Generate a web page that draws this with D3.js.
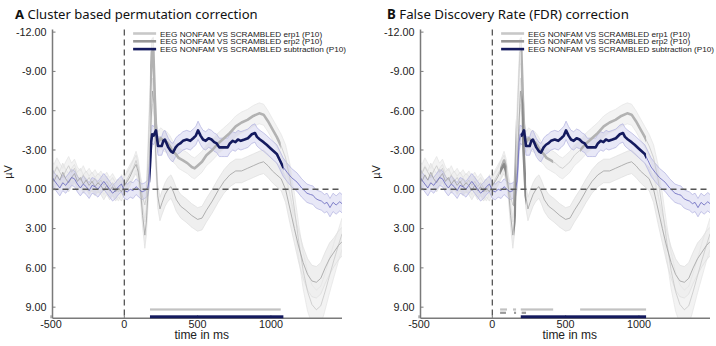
<!DOCTYPE html>
<html><head><meta charset="utf-8">
<script src="https://cdn.jsdelivr.net/npm/d3@7"></script>
<style>body{margin:0;background:#fff}svg{display:block}</style>
</head><body>
<script>
// ---------- data ----------
const yTicks = [-12, -9, -6, -3, 0, 3, 6, 9];
const xTicks = [-500, 0, 500, 1000];
const legendLabels = [
  "EEG NONFAM VS SCRAMBLED erp1 (P10)",
  "EEG NONFAM VS SCRAMBLED erp2 (P10)",
  "EEG NONFAM VS SCRAMBLED subtraction (P10)"
];
const panelLetters = ["A", "B"];
const panelTitles = ["Cluster based permutation correction", "False Discovery Rate (FDR) correction"];

// [time ms, amplitude µV, standard error]
const erp1 = [[-500,-1.6,0.7],[-480,-1.2,0.7],[-460,-1.7,0.7],[-440,-1.3,0.7],[-420,-0.9,0.7],[-400,-1.4,0.7],[-380,-1.8,0.7],[-360,-1.3,0.7],[-340,-1.6,0.7],[-320,-1.0,0.7],[-300,-0.7,0.7],[-280,-1.1,0.7],[-260,-0.6,0.7],[-240,-0.9,0.7],[-220,-0.5,0.7],[-200,-0.8,0.7],[-180,-0.4,0.7],[-160,-0.7,0.7],[-140,-0.3,0.7],[-120,-0.6,0.7],[-100,-0.2,0.7],[-80,-0.5,0.7],[-60,-0.1,0.7],[-40,0.2,0.7],[-20,-0.4,0.7],[0,-0.2,0.7],[20,-0.8,0.7],[40,-1.2,0.7],[60,-1.6,0.7],[80,-2.2,0.7],[95,-1.6,0.7],[110,-0.2,0.8],[125,0.6,0.9],[140,1.2,1.0],[150,0.6,1.0],[160,-2.0,1.0],[175,-7.0,1.0],[188,-10.5,1.0],[198,-10.6,1.0],[208,-7.0,1.0],[218,-4.2,0.9],[232,-3.6,0.8],[248,-3.9,0.8],[268,-3.7,0.8],[290,-3.6,0.8],[310,-3.3,0.8],[330,-2.9,0.8],[350,-2.7,0.8],[370,-2.4,0.8],[400,-2.2,0.8],[430,-2.0,0.8],[460,-1.7,0.8],[480,-1.6,0.8],[500,-1.8,0.8],[530,-2.1,0.8],[560,-2.6,0.8],[600,-3.0,0.8],[640,-3.5,0.8],[680,-3.9,0.8],[720,-4.3,0.8],[760,-4.8,0.8],[800,-5.1,0.8],[840,-5.3,0.8],[880,-5.6,0.8],[920,-5.8,0.8],[950,-5.7,0.8],[980,-5.2,0.8],[1010,-4.6,0.8],[1040,-4.0,0.8],[1070,-3.3,0.9],[1100,-2.4,1.0],[1130,-0.8,1.1],[1160,1.5,1.2],[1190,4.0,1.3],[1220,6.2,1.4],[1250,7.8,1.5],[1280,8.8,1.5],[1310,9.2,1.5],[1340,8.9,1.5],[1370,7.8,1.4],[1400,6.6,1.3],[1430,5.4,1.3],[1460,4.3,1.2],[1485,3.4,1.2]];

const erp2 = [[-500,-1.0,0.7],[-480,-0.6,0.7],[-460,-1.1,0.7],[-440,-0.7,0.7],[-420,-1.3,0.7],[-400,-0.8,0.7],[-380,-0.5,0.7],[-360,-0.9,0.7],[-340,-1.2,0.7],[-320,-0.6,0.7],[-300,-0.9,0.7],[-280,-0.4,0.7],[-260,-0.7,0.7],[-240,-0.3,0.7],[-220,-0.6,0.7],[-200,-0.2,0.7],[-180,-0.5,0.7],[-160,-0.3,0.7],[-140,0.1,0.7],[-120,-0.3,0.7],[-100,0.1,0.7],[-80,-0.2,0.7],[-60,0.2,0.7],[-40,-0.1,0.7],[-20,0.2,0.7],[0,-0.3,0.7],[20,-0.6,0.7],[40,-1.0,0.7],[60,-1.5,0.7],[80,-1.9,0.7],[95,-1.3,0.7],[110,0.0,0.8],[125,2.0,0.9],[140,3.5,1.0],[150,2.5,1.0],[163,0.0,1.0],[178,-4.0,1.0],[192,-7.5,1.0],[203,-6.5,1.0],[213,-3.0,1.0],[228,0.5,0.9],[243,1.5,0.9],[258,1.0,0.9],[278,0.4,0.9],[298,0.0,0.9],[318,-0.2,0.9],[335,0.2,0.9],[355,0.8,0.9],[385,1.3,0.9],[420,1.6,0.9],[460,2.0,0.9],[500,2.3,0.9],[530,2.2,0.9],[560,1.6,0.9],[600,0.9,0.9],[640,0.1,0.9],[680,-0.6,0.9],[720,-1.1,0.9],[760,-1.4,0.9],[800,-1.4,0.9],[840,-1.6,0.9],[880,-1.8,0.9],[920,-2.0,0.9],[950,-2.1,0.9],[980,-1.8,0.9],[1010,-1.4,0.9],[1040,-1.1,0.9],[1070,-0.8,0.9],[1100,0.0,1.0],[1130,1.5,1.1],[1160,3.0,1.1],[1190,4.4,1.2],[1220,5.6,1.2],[1250,6.5,1.2],[1280,7.0,1.2],[1310,7.1,1.2],[1340,6.8,1.2],[1370,6.0,1.2],[1400,5.3,1.2],[1430,4.8,1.1],[1460,4.3,1.1],[1485,4.0,1.1]];

const sub = [[-500,-1.1,0.6],[-480,-0.7,0.6],[-460,-0.4,0.6],[-440,-0.1,0.6],[-420,-0.5,0.6],[-400,-0.3,0.6],[-380,-0.6,0.6],[-360,-0.9,0.6],[-340,-0.8,0.6],[-320,-0.4,0.6],[-300,-0.1,0.6],[-280,-0.4,0.6],[-260,-0.2,0.6],[-240,0.1,0.6],[-220,-0.3,0.6],[-200,-0.2,0.6],[-180,0.0,0.6],[-160,-0.3,0.6],[-140,-0.6,0.6],[-120,-0.3,0.6],[-100,0.0,0.6],[-80,0.3,0.6],[-60,0.1,0.6],[-40,-0.2,0.6],[-20,-0.4,0.6],[0,0.1,0.6],[20,0.2,0.6],[40,0.0,0.6],[60,0.1,0.6],[80,-0.2,0.6],[100,0.0,0.6],[120,0.2,0.6],[140,0.1,0.6],[160,-0.1,0.6],[168,-0.6,0.6],[175,-1.8,0.7],[183,-3.6,0.7],[190,-4.2,0.7],[200,-4.1,0.7],[216,-4.5,0.7],[230,-3.3,0.7],[243,-3.3,0.7],[255,-3.3,0.7],[266,-3.7,0.7],[277,-3.8,0.7],[300,-3.2,0.7],[318,-2.9,0.7],[332,-2.8,0.7],[350,-3.2,0.7],[366,-3.4,0.7],[381,-3.5,0.7],[400,-3.7,0.7],[426,-3.8,0.7],[450,-3.7,0.7],[470,-3.9,0.7],[488,-4.1,0.7],[503,-4.5,0.7],[520,-4.1,0.7],[537,-3.8,0.7],[555,-3.7,0.7],[575,-3.9,0.7],[595,-3.8,0.7],[613,-3.6,0.7],[630,-3.5,0.7],[648,-3.2,0.7],[664,-3.2,0.7],[685,-3.2,0.7],[705,-3.2,0.7],[720,-3.5,0.7],[740,-3.7,0.7],[758,-3.6,0.7],[775,-3.8,0.7],[795,-3.7,0.7],[820,-3.8,0.7],[843,-3.9,0.7],[870,-4.2,0.7],[891,-4.3,0.7],[905,-4.0,0.7],[925,-3.8,0.7],[950,-3.6,0.7],[971,-3.4,0.7],[1000,-3.1,0.7],[1040,-2.7,0.7],[1062,-2.2,0.7],[1083,-1.7,0.7],[1110,-1.3,0.7],[1140,-0.9,0.7],[1178,-0.55,0.7],[1210,-0.1,0.7],[1246,0.3,0.7],[1270,0.4,0.7],[1287,0.45,0.7],[1305,0.7,0.7],[1321,0.8,0.7],[1345,0.9,0.7],[1365,1.1,0.7],[1383,1.0,0.7],[1403,1.4,0.7],[1424,1.0,0.7],[1445,1.2,0.7],[1470,0.95,0.7],[1485,1.1,0.7]];

// significant windows (ms) per panel
const sigErp1 = [[[175,1067]], [[53,100],[141,162],[194,415],[599,1049]]];
const sigErp2 = [[], [[53,93],[148,162],[200,230]]];
const sigSub  = [[[175,1085]], [[194,1049]]];

// ---------- drawing ----------
const W = 716, H = 346;
const svg = d3.select("body").append("svg").attr("width", W).attr("height", H);
const defs = svg.append("defs");

const series = [
  {key:"erp1", data: erp1, sig: sigErp1, band:"#f3f3f3", edge:"#e4e4e4", thin:"#c8c8c8", thick:"#b2b2b2", legend:"#c8c8c8", bar:"#c2c2c2", barRow:0},
  {key:"erp2", data: erp2, sig: sigErp2, band:"#efefef", edge:"#dedede", thin:"#a0a0a0", thick:"#8a8a8a", legend:"#979797", bar:"#999999", barRow:1},
  {key:"sub",  data: sub,  sig: sigSub,  band:"rgba(150,150,220,0.22)", edge:"#b0b0e0", thin:"#6565bd", thick:"#141a5e", legend:"#141a5e", bar:"#141a5e", barRow:2}
];

panelLetters.forEach((letter, p) => {
  const off = p * 368;
  const x = d3.scaleLinear().domain([-490, 1485]).range([52.5 + off, 342 + off]);
  const y = d3.scaleLinear().domain([-12.2, 9.85]).range([29.5, 318.3]);
  const g = svg.append("g");

  const clipId = "plot" + p;
  defs.append("clipPath").attr("id", clipId).append("rect")
    .attr("x", x.range()[0]).attr("y", y.range()[0])
    .attr("width", x.range()[1] - x.range()[0]).attr("height", y.range()[1] - y.range()[0]);
  const plot = g.append("g").attr("clip-path", `url(#${clipId})`);

  const area = d3.area().x(d => x(d[0])).y0(d => y(d[1] - d[2])).y1(d => y(d[1] + d[2]));
  const line = d3.line().x(d => x(d[0])).y(d => y(d[1]));
  const lineLo = d3.line().x(d => x(d[0])).y(d => y(d[1] - d[2]));
  const lineHi = d3.line().x(d => x(d[0])).y(d => y(d[1] + d[2]));

  // bands
  series.forEach(s => {
    plot.append("path").attr("d", area(s.data)).attr("fill", s.band).attr("stroke", "none");
  });
  series.forEach(s => {
    plot.append("path").attr("d", lineLo(s.data)).attr("fill", "none").attr("stroke", s.edge).attr("stroke-width", 0.7);
    plot.append("path").attr("d", lineHi(s.data)).attr("fill", "none").attr("stroke", s.edge).attr("stroke-width", 0.7);
  });
  // thin lines
  series.forEach(s => {
    plot.append("path").attr("d", line(s.data)).attr("fill", "none").attr("stroke", s.thin).attr("stroke-width", 0.8);
  });

  // zero lines
  g.append("line").attr("x1", x.range()[0]).attr("x2", x.range()[1]).attr("y1", y(0)).attr("y2", y(0))
    .attr("stroke", "#555").attr("stroke-width", 1.4).attr("stroke-dasharray", "6,4");
  g.append("line").attr("x1", x(0)).attr("x2", x(0)).attr("y1", y.range()[0]).attr("y2", y.range()[1])
    .attr("stroke", "#555").attr("stroke-width", 1.3).attr("stroke-dasharray", "6,4");

  // thick significant segments
  series.forEach(s => {
    const wins = s.sig[p];
    if (!wins.length) return;
    const cid = `sig${p}${s.key}`;
    const cp = defs.append("clipPath").attr("id", cid);
    wins.forEach(w => cp.append("rect").attr("x", x(w[0])).attr("y", 0).attr("width", x(w[1]) - x(w[0])).attr("height", H));
    plot.append("g").attr("clip-path", `url(#${cid})`)
      .append("path").attr("d", line(s.data)).attr("fill", "none")
      .attr("stroke", s.thick).attr("stroke-width", 2.6).attr("stroke-linejoin", "round");
  });

  // axes
  const axisColor = "#7a7a7a";
  g.append("line").attr("x1", x.range()[0]).attr("x2", x.range()[0]).attr("y1", y.range()[0]).attr("y2", y.range()[1])
    .attr("stroke", axisColor).attr("stroke-width", 1.5);
  g.append("line").attr("x1", x.range()[0]).attr("x2", x.range()[1]).attr("y1", y.range()[1]).attr("y2", y.range()[1])
    .attr("stroke", axisColor).attr("stroke-width", 1.5);
  yTicks.forEach(t => {
    g.append("line").attr("x1", x.range()[0]).attr("x2", x.range()[0] + 3).attr("y1", y(t)).attr("y2", y(t))
      .attr("stroke", axisColor).attr("stroke-width", 1);
    g.append("text").attr("x", x.range()[0] - 6).attr("y", y(t) + 3.8).attr("text-anchor", "end")
      .attr("font-family", "Liberation Sans, Arial, sans-serif").attr("font-size", 10.8).attr("fill", "#222")
      .text(t.toFixed(2));
  });
  xTicks.forEach(t => {
    g.append("line").attr("x1", x(t)).attr("x2", x(t)).attr("y1", y.range()[1]).attr("y2", y.range()[1] - 3)
      .attr("stroke", axisColor).attr("stroke-width", 1);
    g.append("text").attr("x", x(t)).attr("y", 327.5).attr("text-anchor", "middle")
      .attr("font-family", "Liberation Sans, Arial, sans-serif").attr("font-size", 10.8).attr("fill", "#222")
      .text(t);
  });
  g.append("text").attr("x", x(528)).attr("y", 339).attr("text-anchor", "middle")
    .attr("font-family", "Liberation Sans, Arial, sans-serif").attr("font-size", 12).attr("fill", "#222")
    .text("time in ms");
  g.append("text").attr("transform", `translate(${x.range()[0] - 41},${172}) rotate(-90)`).attr("text-anchor", "middle")
    .attr("font-family", "Liberation Sans, Arial, sans-serif").attr("font-size", 11).attr("fill", "#222")
    .text("µV");

  // significance bars
  const barY = [309.5, 312.8, 316.8], barH = [2.2, 2.2, 3];
  series.forEach(s => {
    s.sig[p].forEach(w => {
      g.append("rect").attr("x", x(w[0])).attr("width", x(w[1]) - x(w[0]))
        .attr("y", barY[s.barRow] - barH[s.barRow] / 2).attr("height", barH[s.barRow]).attr("fill", s.bar);
    });
  });

  // legend
  const lx = x(60);
  series.forEach((s, i) => {
    const ly = 33.5 + i * 7.8;
    g.append("line").attr("x1", lx).attr("x2", lx + 23).attr("y1", ly).attr("y2", ly)
      .attr("stroke", s.legend).attr("stroke-width", 2.6);
    g.append("text").attr("x", lx + 27).attr("y", ly + 3)
      .attr("font-family", "Liberation Sans, Arial, sans-serif").attr("font-size", 8).attr("fill", "#222")
      .attr("textLength", i === 2 ? 186 : 162).attr("lengthAdjust", "spacingAndGlyphs")
      .text(legendLabels[i]);
  });

  // title (one text, font size fitted to the reference width)
  const tt = g.append("text").attr("x", 15 + off + (p === 1 ? 4 : 0)).attr("y", 19)
    .attr("font-family", "Noto Sans, Open Sans, sans-serif").attr("font-size", 15).attr("fill", "#111");
  tt.append("tspan").attr("font-weight", "bold").text(letter);
  tt.append("tspan").text(" " + panelTitles[p]);
  const target = p === 0 ? 243 : 242;
  const w = tt.node().getComputedTextLength();
  tt.attr("font-size", 15 * target / w);
});
</script>
</body></html>
